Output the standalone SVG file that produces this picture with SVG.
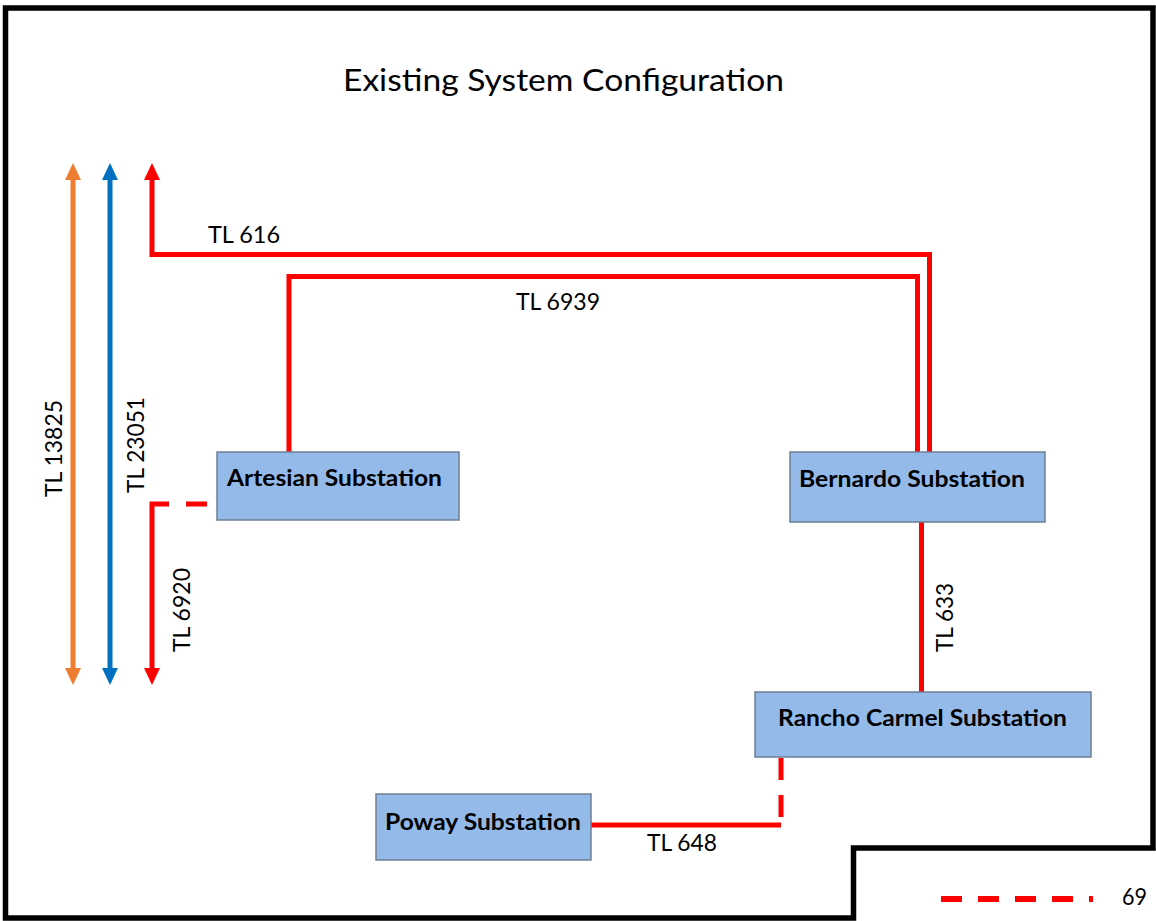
<svg xmlns="http://www.w3.org/2000/svg" width="1156" height="921" viewBox="0 0 1156 921">
<style>
.frame{fill:none;stroke:#000;stroke-width:5.5;stroke-linejoin:miter}
.box{fill:#94BAEA;stroke:#6D7F92;stroke-width:1.5}
.lbl{font-family:Lato,"Liberation Sans",sans-serif;font-weight:bold;font-size:23px;fill:#000}
.tl{font-family:Lato,"Liberation Sans",sans-serif;font-size:24px;fill:#000}
.title{font-family:Lato,"Liberation Sans",sans-serif;font-size:31px;fill:#000}
.red{fill:none;stroke:#FF0000;stroke-width:5;stroke-linejoin:miter}
.org{fill:none;stroke:#ED7D31;stroke-width:5}
.blu{fill:none;stroke:#0070C0;stroke-width:5}
</style>
<defs>
<marker id="ar" markerUnits="userSpaceOnUse" markerWidth="17" markerHeight="16" refX="5" refY="8" orient="auto-start-reverse" viewBox="0 0 17 16">
<path d="M0,0 L17,8 L0,16 Z" fill="#FF0000"/>
</marker>
<marker id="ao" markerUnits="userSpaceOnUse" markerWidth="17" markerHeight="16" refX="5" refY="8" orient="auto-start-reverse" viewBox="0 0 17 16">
<path d="M0,0 L17,8 L0,16 Z" fill="#ED7D31"/>
</marker>
<marker id="ab" markerUnits="userSpaceOnUse" markerWidth="17" markerHeight="16" refX="5" refY="8" orient="auto-start-reverse" viewBox="0 0 17 16">
<path d="M0,0 L17,8 L0,16 Z" fill="#0070C0"/>
</marker>
</defs>
<rect width="1156" height="921" fill="#fff"/>
<path class="frame" d="M5.5,8 H1153 V848 H853.5 V918 H5.5 Z"/>
<text class="title" x="343" y="91" textLength="441" lengthAdjust="spacingAndGlyphs">Existing System Configuration</text>

<g id="connectors">
<path id="tl13825" class="org" d="M73,175 V673" marker-start="url(#ao)" marker-end="url(#ao)"/>
<path id="tl23051" class="blu" d="M110,175 V673" marker-start="url(#ab)" marker-end="url(#ab)"/>
<path id="tl616" class="red" d="M152,175 V254.5 H929.5 V452" marker-start="url(#ar)"/>
<path id="tl6939" class="red" d="M289,452 V276.5 H917.5 V452"/>
<g id="tl6920">
<path class="red" d="M207,504 H186"/>
<path class="red" d="M169,504 H152 V673" marker-end="url(#ar)"/>
</g>
<path id="tl633" class="red" d="M921.5,522 V692"/>
<g id="tl648">
<path class="red" d="M781,758 V780"/>
<path class="red" d="M781,795 V817"/>
<path class="red" d="M781,825 H591"/>
</g>
<text class="tl" x="208" y="243" textLength="72" lengthAdjust="spacingAndGlyphs">TL 616</text>
<text class="tl" x="516" y="310" textLength="84" lengthAdjust="spacingAndGlyphs">TL 6939</text>
<text class="tl" x="647" y="851" textLength="70" lengthAdjust="spacingAndGlyphs">TL 648</text>
<text class="tl" transform="translate(62,497) rotate(-90)" textLength="97" lengthAdjust="spacingAndGlyphs">TL 13825</text>
<text class="tl" transform="translate(144,493) rotate(-90)" textLength="96" lengthAdjust="spacingAndGlyphs">TL 23051</text>
<text class="tl" transform="translate(190,652) rotate(-90)" textLength="84" lengthAdjust="spacingAndGlyphs">TL 6920</text>
<text class="tl" transform="translate(953,652) rotate(-90)" textLength="69" lengthAdjust="spacingAndGlyphs">TL 633</text>
</g>

<g id="artesian">
<rect class="box" x="217" y="452" width="242" height="68"/>
<text class="lbl" x="227" y="486" textLength="215" lengthAdjust="spacingAndGlyphs">Artesian Substation</text>
</g>
<g id="bernardo">
<rect class="box" x="790" y="452" width="255" height="70"/>
<text class="lbl" x="799" y="487" textLength="226" lengthAdjust="spacingAndGlyphs">Bernardo Substation</text>
</g>
<g id="rancho">
<rect class="box" x="755" y="692" width="336" height="65"/>
<text class="lbl" x="778" y="726" textLength="289" lengthAdjust="spacingAndGlyphs">Rancho Carmel Substation</text>
</g>
<g id="poway">
<rect class="box" x="376" y="794" width="215" height="66"/>
<text class="lbl" x="385" y="830" textLength="196" lengthAdjust="spacingAndGlyphs">Poway Substation</text>
</g>

<g id="legend">
<line x1="941" y1="899" x2="1093" y2="899" stroke="#FF0000" stroke-width="6" stroke-dasharray="21 16"/>
<text class="tl" x="1122" y="905" textLength="25" lengthAdjust="spacingAndGlyphs">69</text>
</g>
</svg>
